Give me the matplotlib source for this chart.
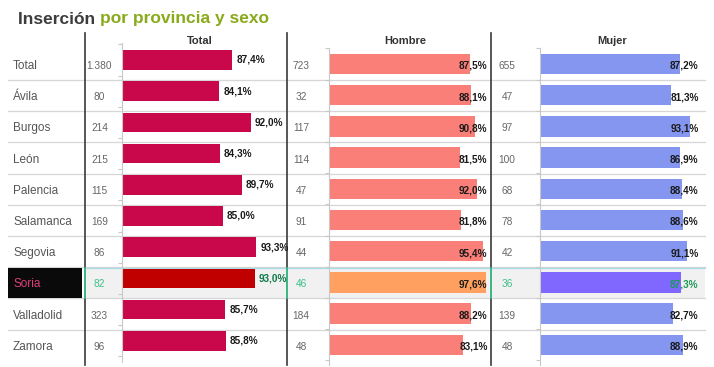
import matplotlib
matplotlib.use("Agg")
import matplotlib.pyplot as plt
from matplotlib.patches import Rectangle

plt.rcParams['font.family'] = ['Liberation Sans', 'DejaVu Sans']

categories = ["Total", "Ávila", "Burgos", "León", "Palencia", "Salamanca",
              "Segovia", "Soria", "Valladolid", "Zamora"]
total_n = ["1.380", "80", "214", "215", "115", "169", "86", "82", "323", "96"]
total_pct = [87.4, 84.1, 92.0, 84.3, 89.7, 85.0, 93.3, 93.0, 85.7, 85.8]
hombre_n = ["723", "32", "117", "114", "47", "91", "44", "46", "184", "48"]
hombre_pct = [87.5, 88.1, 90.8, 81.5, 92.0, 81.8, 95.4, 97.6, 88.2, 83.1]
mujer_n = ["655", "47", "97", "100", "68", "78", "42", "36", "139", "48"]
mujer_pct = [87.2, 81.3, 93.1, 86.9, 88.4, 88.6, 91.1, 87.3, 82.7, 88.9]
highlight = "Soria"

W, H = 714, 367
fig = plt.figure(figsize=(W / 100, H / 100), dpi=100)
bg = fig.add_axes([0, 0, 1, 1])
bg.set_xlim(0, W)
bg.set_ylim(H, 0)
bg.axis('off')

n = len(categories)
step = 31.2
hi = categories.index(highlight)
txt_y = [66 + step * i for i in range(n)]

def fmt(v):
    return f"{v:.1f}".replace(".", ",") + "%"

# title
t1 = bg.text(18, 19, "Inserción ", fontsize=12.5, fontweight='bold',
             color='#3d3d3d', va='center', ha='left')
fig.canvas.draw()
bb = t1.get_window_extent()
bg.text(18 + bb.width, 19, "por provincia y sexo", fontsize=12.5,
        fontweight='bold', color='#8aaa1c', va='center', ha='left')

# headers
for x, h in [(200, "Total"), (405, "Hombre"), (612, "Mujer")]:
    bg.text(x, 41, h, fontsize=8, fontweight='bold', color='#333333',
            ha='center', va='center')

# highlight row
ytop = 80 + step * (hi - 1) + 0.5
bg.add_patch(Rectangle((85, ytop), 620, step - 1, facecolor='#f1f1f1',
                       edgecolor='none', zorder=0))
bg.add_patch(Rectangle((8, ytop), 74, step - 1, facecolor='#0a0a0a',
                       edgecolor='none', zorder=3))

# row separators
for k in range(n - 1):
    y = 80 + step * k
    bg.plot([8, 705], [y, y], color='#d6d6d6', lw=0.9, zorder=1)
bg.plot([85, 705], [ytop, ytop], color='#a8dbe6', lw=0.9, zorder=2)

# dark vertical lines
for x in [85, 287, 491]:
    bg.plot([x, x], [33, 365], color='#3a3a3a', lw=1.2, zorder=2)
    bg.plot([x, x], [ytop, ytop + step - 1], color='#3cc890', lw=1.2, zorder=3)

# category labels and counts
for i, c in enumerate(categories):
    is_h = (i == hi)
    bg.text(13, txt_y[i], c, fontsize=8.5, color='#e0407a' if is_h else '#555555',
            ha='left', va='center', zorder=4)
    cc = '#3cbf8a' if is_h else '#666666'
    bg.text(99.5, txt_y[i], total_n[i], fontsize=7.3, color=cc, ha='center', va='center')
    bg.text(301, txt_y[i], hombre_n[i], fontsize=7.3, color=cc, ha='center', va='center')
    bg.text(507, txt_y[i], mujer_n[i], fontsize=7.3, color=cc, ha='center', va='center')


def make_ax(x0, x1, y0, y1, center0):
    ax = fig.add_axes([x0 / W, 1 - y1 / H, (x1 - x0) / W, (y1 - y0) / H])
    ax.set_facecolor('none')
    ax.set_ylim((y1 - center0) / step, (y0 - center0) / step)
    for s in ['top', 'right', 'bottom']:
        ax.spines[s].set_visible(False)
    ax.spines['left'].set_color('#c8c8c8')
    ax.spines['left'].set_linewidth(0.8)
    ax.set_xticks([])
    ax.set_yticks([k - 0.5 for k in range(n + 1)])
    ax.set_yticklabels([])
    ax.tick_params(axis='y', length=3, color='#c8c8c8', width=0.8)
    return ax

# Total panel
axT = make_ax(122, 283, 43, 362, 60)
axT.set_xlim(60, 100)
colsT = ['#c00000' if i == hi else '#c8084a' for i in range(n)]
axT.barh(range(n), total_pct, height=0.63, color=colsT, left=0)
for i, v in enumerate(total_pct):
    axT.annotate(fmt(v), (v, i), xytext=(3, 0), textcoords='offset points',
                 fontsize=7.2, fontweight='bold',
                 color='#0d7a4a' if i == hi else '#1a1a1a', va='center', ha='left')

# Hombre panel
axH = make_ax(329, 490, 48, 365, 64)
axH.set_xlim(0, 100)
colsH = ['#ffa060' if i == hi else '#fa7f78' for i in range(n)]
axH.barh(range(n), hombre_pct, height=0.66, color=colsH)
for i, v in enumerate(hombre_pct):
    axH.text(0.985, i + 0.06, fmt(v), transform=axH.get_yaxis_transform(),
             fontsize=7.2, fontweight='bold', color='#1a1a1a', va='center', ha='right')

# Mujer panel
axM = make_ax(540, 701, 48, 365, 64)
axM.set_xlim(0, 100)
colsM = ['#8068ff' if i == hi else '#8496f0' for i in range(n)]
axM.barh(range(n), mujer_pct, height=0.66, color=colsM)
for i, v in enumerate(mujer_pct):
    axM.text(0.985, i + 0.06, fmt(v), transform=axM.get_yaxis_transform(),
             fontsize=7.2, fontweight='bold',
             color='#1a9a5a' if i == hi else '#1a1a1a', va='center', ha='right')

fig.savefig("out.png", dpi=100)
